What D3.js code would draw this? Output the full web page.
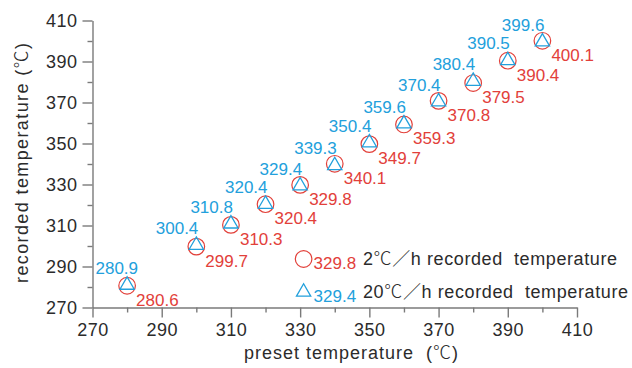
<!DOCTYPE html>
<html>
<head>
<meta charset="utf-8">
<script src="https://cdn.jsdelivr.net/npm/d3@7"></script>
<style>
  body { margin: 0; background: #fff; }
  svg text { font-family: "Liberation Sans", Arial, "Noto Sans CJK SC", sans-serif; }
  .cjk { font-family: "Noto Sans CJK SC", sans-serif; font-weight: 300; }
</style>
</head>
<body>
<div id="chart"></div>
<script>
// preset temperatures (℃)
const preset = [280, 300, 310, 320, 330, 340, 350, 360, 370, 380, 390, 400];
// recorded at 2℃/h
const rate2 = [280.6, 299.7, 310.3, 320.4, 329.8, 340.1, 349.7, 359.3, 370.8, 379.5, 390.4, 400.1];
// recorded at 20℃/h
const rate20 = [280.9, 300.4, 310.8, 320.4, 329.4, 339.3, 350.4, 359.6, 370.4, 380.4, 390.5, 399.6];
const majorTicks = [270, 290, 310, 330, 350, 370, 390, 410];
const minorTicks = [280, 300, 320, 340, 360, 380, 400];
const legendItems = [
  { name: "2℃／h recorded  temperature", sample: "329.8", series: "rate2" },
  { name: "20℃／h recorded  temperature", sample: "329.4", series: "rate20" }
];

const width = 632, height = 368;
const red = "#e2403a", blue = "#22a0dc", axisColor = "#7a7a7a", textColor = "#2b2b2b";

const svg = d3.select("#chart").append("svg")
  .attr("width", width)
  .attr("height", height);

const x = d3.scaleLinear().domain([270, 410]).range([92.5, 577]);
const y = d3.scaleLinear().domain([270, 410]).range([307.5, 20.5]);

// write text, putting the full-width symbols into a CJK font
function richText(sel, str) {
  str.split(/([℃／（）])/).filter(s => s.length).forEach(part => {
    const t = sel.append("tspan").text(part);
    if (/[℃／（）]/.test(part)) t.attr("class", "cjk");
  });
  return sel;
}

// spread the letters so the text covers the given length
function fitText(sel, len) {
  const node = sel.node();
  const n = node.textContent.length;
  const w = node.getComputedTextLength();
  sel.style("letter-spacing", Math.max(0, (len - w) / (n - 1)) + "px");
  return sel;
}

// minor ticks first so the major axis draws on top
svg.append("g")
  .attr("transform", "translate(0," + y(270) + ")")
  .call(d3.axisBottom(x).tickValues(minorTicks).tickSize(5).tickFormat(""))
  .call(g => g.select(".domain").remove());
svg.append("g")
  .attr("transform", "translate(" + x(270) + ",0)")
  .call(d3.axisLeft(y).tickValues(minorTicks).tickSize(5).tickFormat(""))
  .call(g => g.select(".domain").remove());

svg.append("g")
  .attr("transform", "translate(0," + y(270) + ")")
  .call(d3.axisBottom(x).tickValues(majorTicks).tickSize(10).tickSizeOuter(0).tickPadding(6));

svg.append("g")
  .attr("transform", "translate(" + x(270) + ",0)")
  .call(d3.axisLeft(y).tickValues(majorTicks).tickSize(10).tickSizeOuter(0).tickPadding(5));

svg.selectAll(".tick line, .domain")
  .attr("stroke", axisColor)
  .attr("stroke-width", 1.4);
svg.selectAll(".tick text")
  .attr("fill", textColor)
  .style("font-size", "18px")
  .style("letter-spacing", "0.5px");

// axis titles
svg.append("text")
  .attr("x", 244)
  .attr("y", 359)
  .attr("fill", textColor)
  .style("font-size", "18px")
  .style("white-space", "pre")
  .call(richText, "preset temperature  (℃)")
  .call(fitText, 214);

svg.append("text")
  .attr("transform", "translate(28,283)rotate(-90)")
  .attr("fill", textColor)
  .style("font-size", "18px")
  .call(richText, "recorded temperature (℃)")
  .call(fitText, 240);

const tri = d3.symbol().type(d3.symbolTriangle).size(88);

// 2℃/h circles
svg.append("g").selectAll("circle")
  .data(preset)
  .join("circle")
  .attr("cx", d => x(d))
  .attr("cy", (d, i) => y(rate2[i]))
  .attr("r", 8.3)
  .attr("fill", "none")
  .attr("stroke", red)
  .attr("stroke-width", 1.2);

// 20℃/h triangles
svg.append("g").selectAll("path")
  .data(preset)
  .join("path")
  .attr("transform", (d, i) => "translate(" + x(d) + "," + y(rate20[i]) + ")")
  .attr("d", tri)
  .attr("fill", "none")
  .attr("stroke", blue)
  .attr("stroke-width", 1.3);

// value labels
svg.append("g").selectAll("text")
  .data(preset)
  .join("text")
  .attr("x", d => x(d) + 9)
  .attr("y", (d, i) => y(rate2[i]) + 20)
  .attr("fill", red)
  .style("font-size", "17px")
  .text((d, i) => rate2[i].toFixed(1));

svg.append("g").selectAll("text")
  .data(preset)
  .join("text")
  .attr("text-anchor", "end")
  .attr("y", (d, i) => y(rate20[i]) - 11)
  .attr("fill", blue)
  .style("font-size", "17px")
  .text((d, i) => rate20[i].toFixed(1))
  .attr("x", function(d) {
    // keep label clear of the y axis
    const w = this.getComputedTextLength();
    return Math.max(x(d) + 2, x(270) + 3 + w);
  });

// legend
const legend = svg.append("g");
legendItems.forEach((item, i) => {
  const cy = 259 + i * 33;
  const lx = x(331);
  const color = item.series === "rate2" ? red : blue;
  if (item.series === "rate2") {
    legend.append("circle")
      .attr("cx", lx).attr("cy", cy).attr("r", 8.3)
      .attr("fill", "none").attr("stroke", color).attr("stroke-width", 1.2);
  } else {
    legend.append("path")
      .attr("transform", "translate(" + lx + "," + cy + ")")
      .attr("d", tri)
      .attr("fill", "none").attr("stroke", color).attr("stroke-width", 1.3);
  }
  legend.append("text")
    .attr("x", lx + 10).attr("y", cy + 10)
    .attr("fill", color)
    .style("font-size", "17px")
    .text(item.sample);
  legend.append("text")
    .attr("x", 363).attr("y", cy + 6)
    .attr("fill", textColor)
    .style("font-size", "18px")
    .style("white-space", "pre")
    .call(richText, item.name)
    .call(fitText, i === 0 ? 254 : 265);
});
</script>
</body>
</html>
